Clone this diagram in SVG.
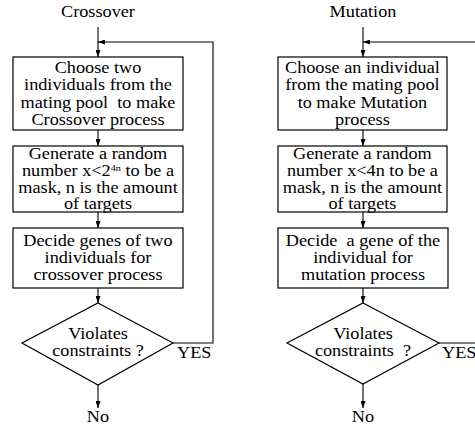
<svg xmlns="http://www.w3.org/2000/svg" width="475" height="426" viewBox="0 0 475 426">
<defs>
<style>
.box{fill:#fff;stroke:#000;stroke-width:1.2}
.ln{fill:none;stroke:#000;stroke-width:1.1}
text{font-family:'Liberation Serif','Times New Roman','DejaVu Serif',serif;font-size:16px;fill:#000;white-space:pre}
.t{text-anchor:middle}
.sup{font-size:9px}
</style>
<marker id="ah" viewBox="0 0 7 5" refX="7" refY="2.5" markerWidth="7" markerHeight="5" markerUnits="userSpaceOnUse" orient="auto">
<path d="M0,0 L7,2.5 L0,5 z" fill="#000"/>
</marker>
</defs>
<rect width="475" height="426" fill="#fff"/>

<g id="connectors">
<line class="ln" x1="98" y1="27" x2="98" y2="57" marker-end="url(#ah)"/>
<polyline class="ln" points="173,343 213,343 213,42 98,42" marker-end="url(#ah)"/>
<line class="ln" x1="98" y1="130" x2="98" y2="146" marker-end="url(#ah)"/>
<line class="ln" x1="98" y1="212" x2="98" y2="228" marker-end="url(#ah)"/>
<line class="ln" x1="98" y1="288" x2="98" y2="303" marker-end="url(#ah)"/>
<line class="ln" x1="98" y1="385" x2="98" y2="408" marker-end="url(#ah)"/>

<line class="ln" x1="363" y1="27" x2="363" y2="57" marker-end="url(#ah)"/>
<polyline class="ln" points="439,343 480,343 480,42 363,42" marker-end="url(#ah)"/>
<line class="ln" x1="363" y1="130" x2="363" y2="146" marker-end="url(#ah)"/>
<line class="ln" x1="363" y1="212" x2="363" y2="228" marker-end="url(#ah)"/>
<line class="ln" x1="363" y1="288" x2="363" y2="303" marker-end="url(#ah)"/>
<line class="ln" x1="363" y1="384" x2="363" y2="408" marker-end="url(#ah)"/>
</g>

<g id="crossover-title" transform="matrix(1.14 0 0 1 -13.72 0)">
<text class="t" x="98" y="17">Crossover</text>
</g>
<g id="c-box1">
<rect class="box" x="13" y="57" width="170" height="73"/>
<g transform="matrix(1.14 0 0 1 -13.72 0)">
<text class="t" x="98" y="73">Choose two</text>
<text class="t" x="98" y="90.3">individuals from the</text>
<text class="t" x="98" y="107.6">mating pool  to make</text>
<text class="t" x="98" y="124.9">Crossover process</text>
</g>
</g>
<g id="c-box2">
<rect class="box" x="13" y="146" width="170" height="66"/>
<g transform="matrix(1.14 0 0 1 -13.72 0)">
<text class="t" x="98" y="159.5">Generate a random</text>
<text class="t" x="98" y="176.5">number x&lt;2<tspan class="sup" dy="-5">4n</tspan><tspan dy="5"> to be a</tspan></text>
<text class="t" x="98" y="193.5">mask, n is the amount</text>
<text class="t" x="98" y="209.5">of targets</text>
</g>
</g>
<g id="c-box3">
<rect class="box" x="13" y="228" width="170" height="60"/>
<g transform="matrix(1.14 0 0 1 -13.72 0)">
<text class="t" x="98" y="246">Decide genes of two</text>
<text class="t" x="98" y="263.3">individuals for</text>
<text class="t" x="98" y="280.5">crossover process</text>
</g>
</g>
<g id="c-decision">
<polygon class="box" points="98,303 173,343 98,385 22,343"/>
<g transform="matrix(1.14 0 0 1 -13.72 0)">
<text class="t" x="98" y="339.5">Violates</text>
<text class="t" x="98" y="356">constraints ?</text>
</g>
</g>
<g id="c-yes" transform="matrix(1.14 0 0 1 -24.8 0)">
<text x="177" y="358">YES</text>
</g>
<g id="c-no" transform="matrix(1.14 0 0 1 -13.72 0)">
<text class="t" x="98" y="422">No</text>
</g>

<g id="mutation-title" transform="matrix(1.14 0 0 1 -50.82 0)">
<text class="t" x="363" y="17">Mutation</text>
</g>
<g id="m-box1">
<rect class="box" x="278" y="57" width="169" height="73"/>
<g transform="matrix(1.14 0 0 1 -50.82 0)">
<text class="t" x="362.5" y="73">Choose an individual</text>
<text class="t" x="362.5" y="90.3">from the mating pool</text>
<text class="t" x="362.5" y="107.6">to make Mutation</text>
<text class="t" x="362.5" y="124.9">process</text>
</g>
</g>
<g id="m-box2">
<rect class="box" x="278" y="146" width="169" height="66"/>
<g transform="matrix(1.14 0 0 1 -50.82 0)">
<text class="t" x="362.5" y="159.5">Generate a random</text>
<text class="t" x="362.5" y="176.5">number x&lt;4n to be a</text>
<text class="t" x="362.5" y="193.5">mask, n is the amount</text>
<text class="t" x="362.5" y="209.5">of targets</text>
</g>
</g>
<g id="m-box3">
<rect class="box" x="278" y="228" width="170" height="60"/>
<g transform="matrix(1.14 0 0 1 -50.82 0)">
<text class="t" x="363" y="246">Decide  a gene of the</text>
<text class="t" x="363" y="263.3">individual for</text>
<text class="t" x="363" y="280.5">mutation process</text>
</g>
</g>
<g id="m-decision">
<polygon class="box" points="363,303 439,343 363,384 287,343"/>
<g transform="matrix(1.14 0 0 1 -50.82 0)">
<text class="t" x="363" y="339.5">Violates</text>
<text class="t" x="363" y="356">constraints  ?</text>
</g>
</g>
<g id="m-yes" transform="matrix(1.14 0 0 1 -61.88 0)">
<text x="442" y="358">YES</text>
</g>
<g id="m-no" transform="matrix(1.14 0 0 1 -50.82 0)">
<text class="t" x="363" y="422">No</text>
</g>
</svg>
